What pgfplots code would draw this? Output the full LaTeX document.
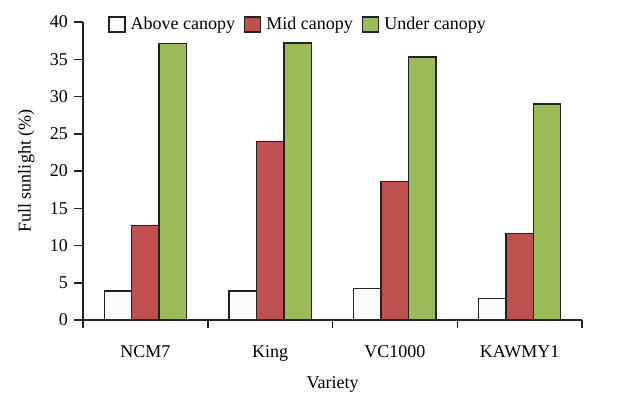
\documentclass[border=0pt]{standalone}
\usepackage{pgfplots}
\pgfplotsset{compat=1.18}
\usepackage{fontspec}
\setmainfont{Liberation Serif}
\definecolor{cred}{HTML}{C0504D}
\definecolor{cgreen}{HTML}{9BBB59}
\definecolor{cwhite}{HTML}{FCFCFC}
\definecolor{caxis}{HTML}{222222}
\begin{document}
\fontsize{18}{21}\selectfont
\begin{tikzpicture}
\begin{axis}[
  scale only axis,
  width=499pt, height=298pt,
  xmin=-0.5, xmax=3.5,
  ymin=0, ymax=40,
  axis lines=left,
  axis line style={-, line width=1.5pt, color=caxis},
  xtick={0,1,2,3},
  xticklabels={NCM7,King,VC1000,KAWMY1},
  major x tick style={draw=none},
  minor xtick={-0.5,0.5,1.5,2.5,3.5},
  minor x tick style={line width=1.5pt, color=caxis},
  minor tick length=8pt,
  ytick={0,5,...,40},
  major y tick style={line width=1.5pt, color=caxis},
  major tick length=9pt,
  tick align=outside,
  xticklabel style={yshift=-10pt},
  /pgf/number format/assume math mode=true,
  xlabel={Variety},
  ylabel={Full sunlight (\%)},
  xlabel style={yshift=-3pt},
  ylabel style={yshift=3pt},
  ybar=0pt,
  bar width=0.22,
  every axis plot/.append style={draw=caxis, line width=1.4pt},
  legend columns=3,
  legend style={draw=none, fill=none, at={(rel axis cs:0.044,0.99)}, anchor=west,
    /tikz/every odd column/.append style={column sep=3pt},
    /tikz/every even column/.append style={column sep=7pt}},
  legend image code/.code={\draw[#1, line width=1.4pt] (0pt,-7pt) rectangle (16pt,8pt);},
  clip=false,
]
\addplot[fill=cwhite, bar shift=-0.22] coordinates {(0,3.9) (1,3.9) (2,4.2) (3,2.9)};
\addplot[fill=cred, bar shift=0] coordinates {(0,12.7) (1,24.0) (2,18.6) (3,11.6)};
\addplot[fill=cgreen, bar shift=0.22] coordinates {(0,37.1) (1,37.2) (2,35.3) (3,29.0)};
\legend{Above canopy, Mid canopy, Under canopy}
\end{axis}
\path (current axis.south west) ++(-83pt,-75pt) rectangle ++(626pt,395pt);
\end{tikzpicture}
\end{document}
